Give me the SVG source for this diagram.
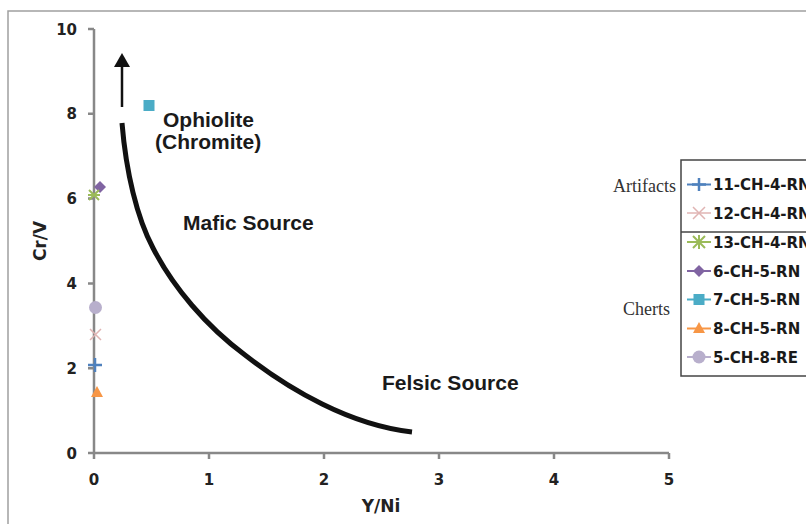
<svg xmlns="http://www.w3.org/2000/svg" width="806" height="524" viewBox="0 0 806 524">
<style>
.tick{font-family:"DejaVu Sans",sans-serif;font-weight:bold;font-size:15px;fill:#222}
.title{font-family:"DejaVu Sans",sans-serif;font-weight:bold;font-size:17px;fill:#222}
.lbl{font-family:"Liberation Sans",Arial,sans-serif;font-weight:bold;font-size:21px;fill:#1a1a1a}
.leg{font-family:"DejaVu Sans",sans-serif;font-weight:bold;font-size:15px;fill:#1a1a1a}
.grp{font-family:"Liberation Serif","Times New Roman",serif;font-size:18px;fill:#333}
.axis{stroke:#888;stroke-width:2.5;fill:none}
</style>
<rect x="0" y="0" width="806" height="524" fill="#fff"/>
<path d="M8,530 V11 H810" fill="none" stroke="#a0a0a0" stroke-width="1.5"/>

<g id="axes">
<path class="axis" d="M94,29 V456 M88,29 H94 M88,113.8 H94 M88,198.6 H94 M88,283.4 H94 M88,368.2 H94 M88,453 H669 M94,453 V459 M209,453 V459 M324,453 V459 M439,453 V459 M554,453 V459 M669,453 V459"/>
<g class="tick" text-anchor="end">
<text x="77" y="34.5">10</text>
<text x="77" y="119">8</text>
<text x="77" y="204">6</text>
<text x="77" y="289">4</text>
<text x="77" y="373.5">2</text>
<text x="77" y="458.5">0</text>
</g>
<g class="tick" text-anchor="middle">
<text x="94" y="485">0</text>
<text x="209" y="485">1</text>
<text x="324" y="485">2</text>
<text x="439" y="485">3</text>
<text x="554" y="485">4</text>
<text x="669" y="485">5</text>
</g>
<text class="title" text-anchor="middle" transform="translate(46,241) rotate(-90)">Cr/V</text>
<text class="title" text-anchor="middle" x="381" y="512">Y/Ni</text>
</g>

<g id="connectors">
<path d="M122,123 C126,172 137,218 153,248 C173,287 206,326 245,355 C290,390 350,425 412,432" fill="none" stroke="#111" stroke-width="5"/>
<line x1="122" y1="107" x2="122" y2="64" stroke="#111" stroke-width="2.5"/>
<polygon points="122,53 114,67 130,67" fill="#111"/>
</g>

<g id="labels">
<text class="lbl" x="163" y="127">Ophiolite</text>
<text class="lbl" x="155" y="149">(Chromite)</text>
<text class="lbl" x="183" y="230">Mafic Source</text>
<text class="lbl" x="382" y="390">Felsic Source</text>
</g>

<g id="data">
<rect x="143.5" y="100" width="11" height="11" fill="#4bacc6"/>
<polygon points="100,181 106,187 100,193 94,187" fill="#8064a2"/>
<g stroke="#9bbb59" stroke-width="2"><path d="M89,190 L99,200 M99,190 L89,200 M88,195 H100"/></g>
<circle cx="95.5" cy="307.5" r="6.5" fill="#b8afcc"/>
<path d="M90,329 L101,340 M101,329 L90,340" stroke="#e0b4b3" stroke-width="1.5"/>
<path d="M95,358 V372 M88,365 H102" stroke="#4f81bd" stroke-width="2.5"/>
<polygon points="97,386 103,397 91,397" fill="#f79646"/>
</g>

<g id="legend">
<rect x="681" y="160" width="140" height="216" fill="#fff" stroke="#444" stroke-width="1.5"/>
<line x1="681" y1="232" x2="810" y2="232" stroke="#444" stroke-width="1.5"/>
<text class="grp" x="613" y="192">Artifacts</text>
<text class="grp" x="623" y="315">Cherts</text>
<g id="leg11"><line x1="687" y1="184.5" x2="711" y2="184.5" stroke="#4f81bd" stroke-width="2"/><path d="M699,178 V191 M692,184.5 H706" stroke="#4f81bd" stroke-width="2.5"/><text class="leg" x="713" y="190">11-CH-4-RN</text></g>
<g id="leg12"><line x1="687" y1="213" x2="711" y2="213" stroke="#e0b4b3" stroke-width="1.5"/><path d="M693,207 L705,219 M705,207 L693,219" stroke="#e0b4b3" stroke-width="1.5"/><text class="leg" x="713" y="218.5">12-CH-4-RN</text></g>
<g id="leg13"><line x1="687" y1="242" x2="711" y2="242" stroke="#9bbb59" stroke-width="2"/><path d="M693,236 L705,248 M705,236 L693,248 M699,235 V249" stroke="#9bbb59" stroke-width="2"/><text class="leg" x="713" y="247.5">13-CH-4-RN</text></g>
<g id="leg6"><line x1="687" y1="271" x2="711" y2="271" stroke="#8064a2" stroke-width="2"/><polygon points="699,265 705,271 699,277 693,271" fill="#8064a2"/><text class="leg" x="713" y="276.5">6-CH-5-RN</text></g>
<g id="leg7"><line x1="687" y1="299.5" x2="711" y2="299.5" stroke="#4bacc6" stroke-width="2"/><rect x="693.5" y="294" width="11" height="11" fill="#4bacc6"/><text class="leg" x="713" y="305">7-CH-5-RN</text></g>
<g id="leg8"><line x1="687" y1="328.5" x2="711" y2="328.5" stroke="#f79646" stroke-width="2"/><polygon points="699,322 705,333 693,333" fill="#f79646"/><text class="leg" x="713" y="334">8-CH-5-RN</text></g>
<g id="leg5"><line x1="687" y1="357" x2="711" y2="357" stroke="#b8afcc" stroke-width="2"/><circle cx="699" cy="357" r="6.5" fill="#b8afcc"/><text class="leg" x="713" y="362.5">5-CH-8-RE</text></g>
</g>
</svg>
